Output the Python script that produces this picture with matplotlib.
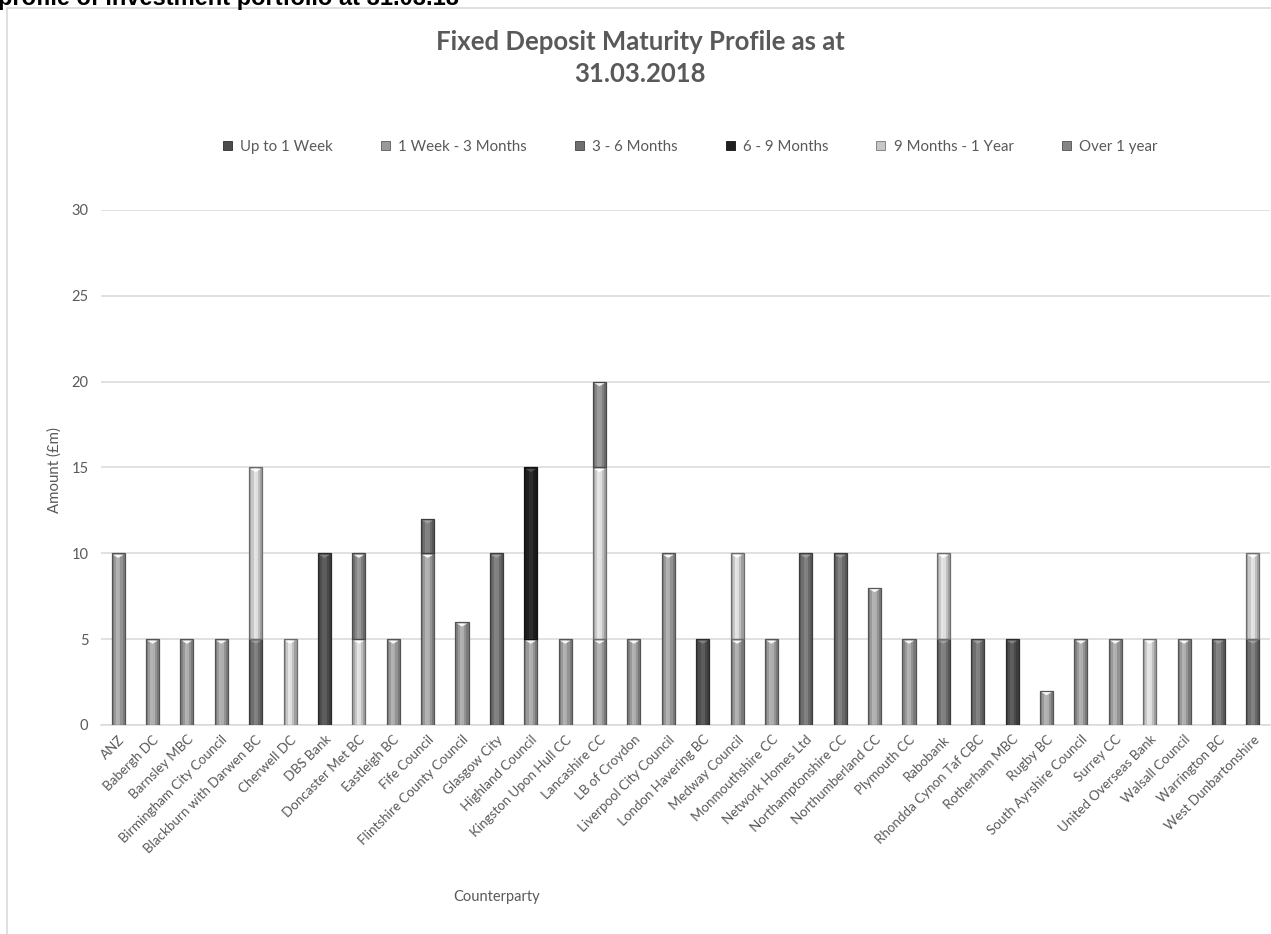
import matplotlib
matplotlib.use("Agg")
import matplotlib.pyplot as plt
import numpy as np
from matplotlib.patches import Rectangle, Patch
from matplotlib.transforms import offset_copy

categories = ["ANZ", "Babergh DC", "Barnsley MBC", "Birmingham City Council",
              "Blackburn with Darwen BC", "Cherwell DC", "DBS Bank", "Doncaster Met BC",
              "Eastleigh BC", "Fife Council", "Flintshire County Council", "Glasgow City",
              "Highland Council", "Kingston Upon Hull CC", "Lancashire CC", "LB of Croydon",
              "Liverpool City Council", "London Havering BC", "Medway Council",
              "Monmouthshire CC", "Network Homes Ltd", "Northamptonshire CC",
              "Northumberland CC", "Plymouth CC", "Rabobank", "Rhondda Cynon Taf CBC",
              "Rotherham MBC", "Rugby BC", "South Ayrshire Council", "Surrey CC",
              "United Overseas Bank", "Walsall Council", "Warrington BC", "West Dunbartonshire"]

series_names = ["Up to 1 Week", "1 Week - 3 Months", "3 - 6 Months",
                "6 - 9 Months", "9 Months - 1 Year", "Over 1 year"]

up_to_1_week = [0, 0, 0, 0, 0, 0, 10, 0, 0, 0, 0, 0, 0, 0, 0, 0, 0, 5, 0, 0, 0, 0, 0, 0, 0, 0, 5, 0, 0, 0, 0, 0, 0, 0]
week1_to_3m  = [10, 5, 5, 5, 0, 0, 0, 0, 5, 10, 6, 0, 5, 5, 5, 5, 10, 0, 5, 5, 0, 0, 8, 5, 0, 0, 0, 2, 5, 5, 0, 5, 0, 0]
m3_to_6m     = [0, 0, 0, 0, 5, 0, 0, 0, 0, 2, 0, 10, 0, 0, 0, 0, 0, 0, 0, 0, 10, 10, 0, 0, 5, 5, 0, 0, 0, 0, 0, 0, 5, 5]
m6_to_9m     = [0, 0, 0, 0, 0, 0, 0, 0, 0, 0, 0, 0, 10, 0, 0, 0, 0, 0, 0, 0, 0, 0, 0, 0, 0, 0, 0, 0, 0, 0, 0, 0, 0, 0]
m9_to_1y     = [0, 0, 0, 0, 10, 5, 0, 5, 0, 0, 0, 0, 0, 0, 10, 0, 0, 0, 5, 0, 0, 0, 0, 0, 5, 0, 0, 0, 0, 0, 5, 0, 0, 5]
over_1_year  = [0, 0, 0, 0, 0, 0, 0, 5, 0, 0, 0, 0, 0, 0, 5, 0, 0, 0, 0, 0, 0, 0, 0, 0, 0, 0, 0, 0, 0, 0, 0, 0, 0, 0]

y_ticks = [0, 5, 10, 15, 20, 25, 30]

series_values = [up_to_1_week, week1_to_3m, m3_to_6m, m6_to_9m, m9_to_1y, over_1_year]
base_gray = [0.30, 0.60, 0.43, 0.12, 0.78, 0.52]
tri_gray = [0.50, 0.97, 0.62, 0.30, 1.0, 0.93]

FONT = ["Lato", "DejaVu Sans"]
TXT = "#595959"

fig = plt.figure(figsize=(12.71, 9.34), dpi=100)
W, H = 1271, 934

# outer chart frame and clipped heading
fig.add_artist(Rectangle((7 / W, -0.1), 1.2, (1 - 8 / H) + 0.1, transform=fig.transFigure,
                         fill=False, edgecolor="#d9d9d9", lw=1.2))
fig.text(-2 / W, 1 - 5 / H, "profile of investment portfolio at 31.03.18",
         fontsize=17, fontweight="bold", family=["Liberation Sans", "DejaVu Sans"],
         color="black", va="baseline", ha="left")

ax = fig.add_axes([101 / W, 209 / H, 1169 / W, 515 / H])
x = np.arange(len(categories))
width = 0.38
profile = [0.84, 1.0, 1.1, 1.07, 0.96, 0.8]
nstrip = len(profile)

bottom = np.zeros(len(categories))
for vals, g, tg in zip(series_values, base_gray, tri_gray):
    vals = np.array(vals, dtype=float)
    mask = vals > 0
    xs, vs, bs = x[mask], vals[mask], bottom[mask]
    sw = width / nstrip
    for k, f in enumerate(profile):
        c = min(1.0, g * f + (0.04 if f > 1 else 0))
        ax.bar(xs - width / 2 + sw * (k + 0.5), vs, sw, bottom=bs,
               color=(c, c, c), edgecolor="none", zorder=3)
    ec = g * 0.55
    ax.bar(xs, vs, width, bottom=bs, facecolor="none",
           edgecolor=(ec, ec, ec), lw=0.9, zorder=4)
    tr = offset_copy(ax.transData, fig=fig, x=0, y=-1.5, units="dots")
    ax.scatter(xs, bs + vs, marker=[(-1, 0), (1, 0), (0, -0.6)], s=55,
               color=(tg, tg, tg), edgecolors="none", transform=tr, zorder=5)
    bottom += vals

ax.set_xlim(-0.5, len(categories) - 0.5)
ax.set_ylim(0, 30)
ax.set_yticks(y_ticks)
ax.yaxis.grid(True, color="#d9d9d9", lw=1.1, zorder=0)
ax.set_axisbelow(True)
for s in ["top", "right", "left"]:
    ax.spines[s].set_visible(False)
ax.spines["bottom"].set_color("#d9d9d9")
ax.spines["bottom"].set_linewidth(1.1)
ax.tick_params(axis="y", length=0, pad=9, labelsize=10.5, labelcolor=TXT)
ax.tick_params(axis="x", length=0, pad=6, labelsize=9.6, labelcolor=TXT)
for lab in ax.get_yticklabels():
    lab.set_family(FONT)
ax.set_xticks(x)
ax.set_xticklabels(categories, rotation=45, ha="right", va="top",
                   rotation_mode="anchor", family=FONT)

fig.text(640 / W, 1 - 58 / H, "Fixed Deposit Maturity Profile as at\n31.03.2018",
         ha="center", va="center", fontsize=18.5, fontweight="bold", color=TXT,
         family=FONT, linespacing=1.42)
fig.text(55 / W, 1 - 470 / H, "Amount (£m)", rotation=90, ha="center", va="center",
         fontsize=10.8, color=TXT, family=FONT)
fig.text(497 / W, 1 - 897 / H, "Counterparty", ha="center", va="center",
         fontsize=10.5, color=TXT, family=FONT)

handles = [Patch(facecolor=(g, g, g), edgecolor=(g * 0.6,) * 3, lw=0.6) for g in base_gray]
fig.legend(handles, series_names, loc="center", bbox_to_anchor=(690 / W, 1 - 147 / H),
           ncol=6, frameon=False, handlelength=0.6, handleheight=0.6,
           handletextpad=0.55, columnspacing=3.2, labelcolor=TXT,
           prop={"family": FONT, "size": 10.8})

fig.savefig("out.png", dpi=100)
